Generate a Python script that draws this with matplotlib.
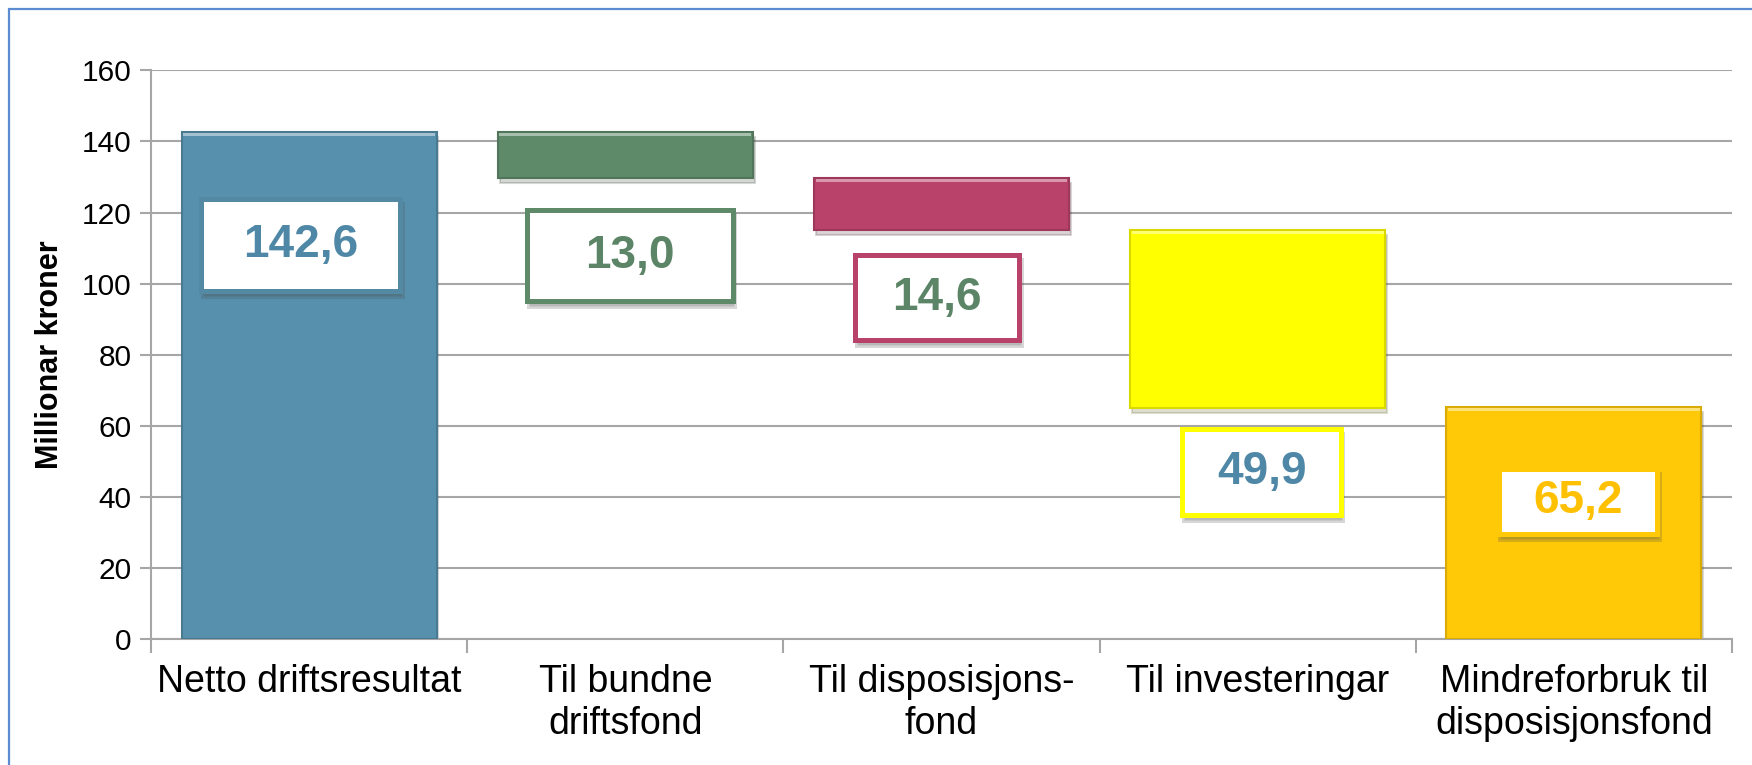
import matplotlib
matplotlib.use("Agg")
import matplotlib.pyplot as plt
from matplotlib.patches import Rectangle, Shadow
import matplotlib.colors as mcolors

# ---- data ----
categories = ["Netto driftsresultat", "Til bundne\ndriftsfond", "Til disposisjons-\nfond",
              "Til investeringar", "Mindreforbruk til\ndisposisjonsfond"]
changes = [142.6, -13.0, -14.6, -49.9]
total_value = 65.2
value_labels = ["142,6", "13,0", "14,6", "49,9", "65,2"]
y_ticks = [0, 20, 40, 60, 80, 100, 120, 140, 160]

# ---- style ----
bar_colors = ["#5790AC", "#5F8A6A", "#B9426B", "#FFFF00", "#FFC908"]
text_colors = ["#4F88A6", "#5B8566", "#5B8566", "#4F88A6", "#FFC000"]
# label box layout (x offset from category centre, y centre, width, height in data units)
box_dx = [-0.027, 0.014, -0.014, 0.012, 0.012]
box_y = [110.9, 107.8, 96.0, 47.0, 38.7]
box_w = [0.63, 0.65, 0.52, 0.50, 0.50]
box_h = [25.8, 25.6, 24.0, 24.0, 18.5]

plt.rcParams['font.family'] = ['Liberation Sans', 'DejaVu Sans']

fig = plt.figure(figsize=(17.52, 7.65), dpi=100)
ax = fig.add_axes([0.0862, 0.1647, 0.9024, 0.7433])

# waterfall geometry
bottoms, heights = [], []
running = 0.0
for c in changes:
    if c >= 0:
        bottoms.append(running); heights.append(c)
    else:
        bottoms.append(running + c); heights.append(-c)
    running += c
bottoms.append(0.0); heights.append(total_value)

xs = [i + 0.5 for i in range(len(categories))]

def darker(col, f=0.8):
    r, g, b = mcolors.to_rgb(col)
    return (r * f, g * f, b * f)

def lighter(col, f=0.45):
    r, g, b = mcolors.to_rgb(col)
    return (r + (1 - r) * f, g + (1 - g) * f, b + (1 - b) * f)

bw = 0.806
bars = ax.bar(xs, heights, bottom=bottoms, width=bw, color=bar_colors,
              edgecolor=[darker(c, 0.85) for c in bar_colors], linewidth=1.5, zorder=3)
for b, c in zip(bars, bar_colors):
    sh = Shadow(b, 0.004, -1.0, alpha=0.18, zorder=2)
    ax.add_patch(sh)
    # light bevel along the top edge
    top = b.get_y() + b.get_height()
    ax.add_patch(Rectangle((b.get_x() + 0.005, top - 1.1), b.get_width() - 0.01, 1.0,
                           facecolor=lighter(c), edgecolor='none', zorder=4))

# label boxes
for i in range(len(categories)):
    cx = xs[i] + box_dx[i]
    rect = Rectangle((cx - box_w[i] / 2, box_y[i] - box_h[i] / 2), box_w[i], box_h[i],
                     facecolor='white', edgecolor=bar_colors[i] if i != 0 else darker(bar_colors[0], 0.95),
                     linewidth=3.6, zorder=6)
    ax.add_patch(Shadow(rect, 0.004, -1.0, alpha=0.22, zorder=5))
    ax.add_patch(rect)
    ax.text(cx, box_y[i], value_labels[i], ha='center', va='center', fontsize=33,
            fontweight='bold', color=text_colors[i], zorder=7)

ax.set_xlim(0, len(categories))
ax.set_ylim(0, 160)
ax.set_yticks(y_ticks)
ax.set_yticklabels([str(v) for v in y_ticks], fontsize=21.5)
ax.yaxis.grid(True, color='#A6A6A6', linewidth=1.5, zorder=0)
ax.set_axisbelow(True)

ax.set_xticks(range(len(categories) + 1))
ax.set_xticklabels([])
ax.set_xticks(xs, minor=True)
ax.set_xticklabels(categories, minor=True, fontsize=27, linespacing=1.2)
ax.tick_params(axis='x', which='minor', length=0, pad=18)
ax.tick_params(axis='x', which='major', length=10, width=1.5, color='#A6A6A6')
ax.tick_params(axis='y', length=8, width=1.5, color='#A6A6A6', pad=6)

for s in ['top', 'right']:
    ax.spines[s].set_visible(False)
for s in ['left', 'bottom']:
    ax.spines[s].set_color('#A6A6A6')
    ax.spines[s].set_linewidth(1.5)

ax.set_ylabel("Millionar kroner", fontsize=22, fontweight='bold', labelpad=12)

# outer border of the chart area
fig.patches.append(Rectangle((9 / 1752, -0.2), 1.2, 1.2 - 9 / 765 + 0.0,
                             transform=fig.transFigure, fill=False,
                             edgecolor='#5B8BD0', linewidth=1.6, clip_on=False))

fig.savefig("out.png", dpi=100)
